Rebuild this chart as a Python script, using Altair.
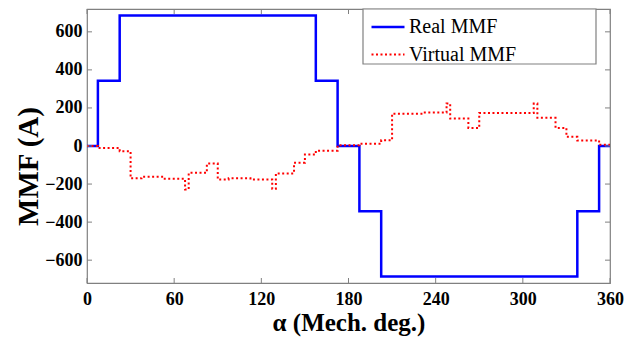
import altair as alt
import pandas as pd

# ---- data ----
series_names = ["Real MMF", "Virtual MMF"]

real_x = [0, 7.5, 22.5, 157.5, 172.5, 187.5, 202.5, 337.5, 352.5, 360]
real_y = [0, 343, 686, 343, 0, -343, -686, -343, 0, 0]

virt_x = [0, 7.5, 22.5, 30, 37.5, 52.5, 67.5, 70, 82.5, 90, 97.5, 112.5, 127.5, 130,
          142.5, 150, 157.5, 172.5, 187.5, 202.5, 210, 232.5, 247.5, 250, 262.5, 270,
          307.5, 310, 322.5, 330, 337.5, 352.5, 360]
virt_y = [0, -10, -27, -170, -162, -172, -228, -141, -92, -176, -170, -176, -225, -144,
          -88, -45, -25, 4, 12, 30, 170, 176, 223, 144, 95, 174,
          223, 148, 95, 48, 29, 6, 6]

x_ticks = [0, 60, 120, 180, 240, 300, 360]
y_ticks = [-600, -400, -200, 0, 200, 400, 600]

W, H = 523, 274
GRAY = "#808080"
FONT = "Times New Roman, Liberation Serif, DejaVu Serif, serif"

rows = []
for i, (a, b) in enumerate(zip(real_x, real_y)):
    rows.append({"x": a, "y": b, "series": series_names[0], "idx": i})
for i, (a, b) in enumerate(zip(virt_x, virt_y)):
    rows.append({"x": a, "y": b, "series": series_names[1], "idx": i})
df = pd.DataFrame(rows)

dfx = pd.DataFrame({"x": x_ticks})
dfy = pd.DataFrame({"y": y_ticks})

xscale = alt.Scale(domain=[0, 360], nice=False, zero=False)
yscale = alt.Scale(domain=[-720, 720], nice=False, zero=False)

xaxis = alt.Axis(
    values=x_ticks, labelPadding=7, labelFontSize=18, labelFlush=False,
    titleFontSize=25, titleY=47, titleBaseline="alphabetic")
yaxis = alt.Axis(
    values=y_ticks, labelPadding=5, labelFontSize=18,
    titleFontSize=29, titleAngle=270, titleX=-50, titleY=157,
    titleAlign="center", titleBaseline="alphabetic")

X = alt.X("x:Q", scale=xscale, axis=xaxis, title="α (Mech. deg.)")
Y = alt.Y("y:Q", scale=yscale, axis=yaxis, title="MMF (A)")

leg = alt.Legend(title=None, orient="none", legendX=283, legendY=0)

lines = alt.Chart(df).mark_line(interpolate="step-after", strokeCap="butt").encode(
    x=X, y=Y,
    color=alt.Color("series:N", scale=alt.Scale(domain=series_names, range=["#0000ff", "#ff0000"]), legend=leg),
    strokeDash=alt.StrokeDash("series:N", scale=alt.Scale(domain=series_names, range=[[1, 0], [2, 2.5]]), legend=leg),
    strokeWidth=alt.StrokeWidth("series:N", scale=alt.Scale(domain=series_names, range=[2.5, 2]), legend=None),
    order="idx:Q",
)

tick_b = alt.Chart(dfx).mark_rule(color=GRAY, strokeWidth=1).encode(
    x=X, y=alt.value(H - 5), y2=alt.value(H))
tick_t = alt.Chart(dfx).mark_rule(color=GRAY, strokeWidth=1).encode(
    x=X, y=alt.value(0), y2=alt.value(5))
tick_l = alt.Chart(dfy).mark_rule(color=GRAY, strokeWidth=1).encode(
    y=Y, x=alt.value(0), x2=alt.value(5))
tick_r = alt.Chart(dfy).mark_rule(color=GRAY, strokeWidth=1).encode(
    y=Y, x=alt.value(W - 5), x2=alt.value(W))

legend_box = alt.Chart(pd.DataFrame({"a": [0]})).mark_rect(
    fill="white", stroke=GRAY, strokeWidth=1.2).encode(
    x=alt.value(276), x2=alt.value(509), y=alt.value(0), y2=alt.value(55))

chart = alt.layer(lines, tick_b, tick_t, tick_l, tick_r, legend_box).properties(
    width=W, height=H,
    autosize=alt.AutoSizeParams(type="none"),
    padding={"left": 87, "top": 9, "right": 27, "bottom": 58},
    background="white",
).configure_view(stroke=GRAY, strokeWidth=1.2).configure_axis(
    ticks=False, domain=False, grid=False,
    labelFont=FONT, labelFontWeight="bold", labelColor="black",
    titleFont=FONT, titleFontWeight="bold", titleColor="black",
).configure_legend(
    labelFont=FONT, labelFontSize=20, labelColor="black", symbolType="stroke",
    symbolSize=1089, symbolStrokeWidth=2.5, rowPadding=-16, labelOffset=3, padding=0,
)

chart.save("out.html", embed_options={"renderer": "svg", "actions": False})
